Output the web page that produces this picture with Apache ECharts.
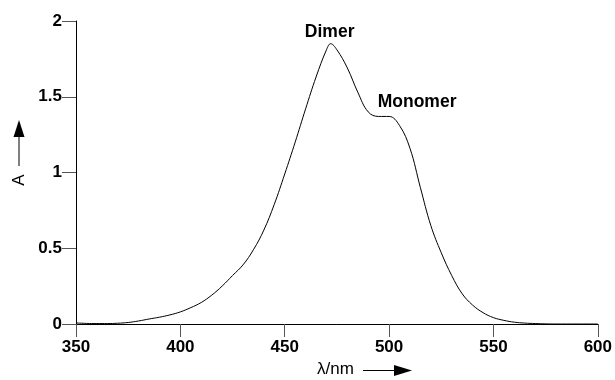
<!DOCTYPE html>
<html><head><meta charset="utf-8">
<script src="https://cdn.jsdelivr.net/npm/echarts@6/dist/echarts.min.js"></script>
<style>html,body{margin:0;padding:0;background:#fff}#c{width:615px;height:380px}</style>
</head><body><div id="c"></div>
<script>
const wavelengths = [350,355,360,365,370,375,380,385,390,395,400,405,410,415,420,425,430,435,440,445,450,455,460,465,470,472,475,480,485,490,495,500,505,510,515,520,525,530,535,540,545,550,555,560,565,570,575,580,590,600];
const absorbance = [0.007,0.004,0.003,0.003,0.005,0.01,0.02,0.033,0.045,0.06,0.08,0.108,0.142,0.19,0.25,0.32,0.39,0.49,0.62,0.79,0.99,1.20,1.42,1.63,1.81,1.85,1.81,1.69,1.53,1.40,1.37,1.37,1.31,1.16,0.90,0.65,0.47,0.32,0.20,0.125,0.075,0.042,0.024,0.012,0.006,0.003,0.001,0,0,0];
const xTicks = [350,400,450,500,550,600];
const yTicks = [0,0.5,1,1.5,2];
const annotations = [{name:'Dimer', x:472, y:1.85}, {name:'Monomer', x:500, y:1.37}];

const FONT = 'Liberation Sans';
const chart = echarts.init(document.getElementById('c'), null, {renderer:'canvas'});
chart.setOption({
  animation:false,
  grid:{left:76, right:14, top:21, bottom:56, containLabel:false},
  xAxis:{type:'value', min:xTicks[0], max:xTicks[xTicks.length-1], interval:50,
    axisLine:{lineStyle:{color:'#000', width:1}},
    axisTick:{show:true, inside:false, length:13, lineStyle:{color:'#555', width:1}},
    axisLabel:{margin:15, color:'#000', fontFamily:FONT, fontWeight:'bold', fontSize:17},
    splitLine:{show:false}},
  yAxis:{type:'value', min:yTicks[0], max:yTicks[yTicks.length-1], interval:0.5,
    axisLine:{show:true, lineStyle:{color:'#000', width:1}},
    axisTick:{show:true, inside:false, length:14, lineStyle:{color:'#555', width:1}},
    axisLabel:{margin:14, color:'#000', fontFamily:FONT, fontWeight:'bold', fontSize:17},
    splitLine:{show:false}},
  series:[{type:'line', data:wavelengths.map((w,i)=>[w,absorbance[i]]), smooth:0.4, showSymbol:false,
    lineStyle:{color:'#000', width:1},
    markPoint:{symbol:'circle', symbolSize:0,
      label:{show:true, formatter:'{b}', color:'#000', fontFamily:FONT, fontWeight:'bold', fontSize:17.5},
      data:[
        {name:annotations[0].name, coord:[annotations[0].x, annotations[0].y], label:{offset:[-1,-12]}},
        {name:annotations[1].name, coord:[annotations[1].x, annotations[1].y], label:{offset:[28,-14]}}
      ]}}],
  graphic:[
    {type:'text', left:317, top:361, style:{text:'λ/nm', font:'17px '+FONT, fill:'#000'}},
    {type:'line', shape:{x1:363, y1:370.5, x2:396, y2:370.5}, style:{stroke:'#000', lineWidth:1}},
    {type:'polygon', shape:{points:[[394,365],[412,370.5],[394,376]]}, style:{fill:'#000'}},
    {type:'text', x:19, y:180, rotation:Math.PI/2, style:{text:'A', font:'17px '+FONT, fill:'#000', align:'center', verticalAlign:'middle'}},
    {type:'line', shape:{x1:19, y1:166, x2:19, y2:134}, style:{stroke:'#000', lineWidth:1}},
    {type:'polygon', shape:{points:[[13.5,137],[19,120],[24.5,137]]}, style:{fill:'#000'}}
  ]
});
</script></body></html>
